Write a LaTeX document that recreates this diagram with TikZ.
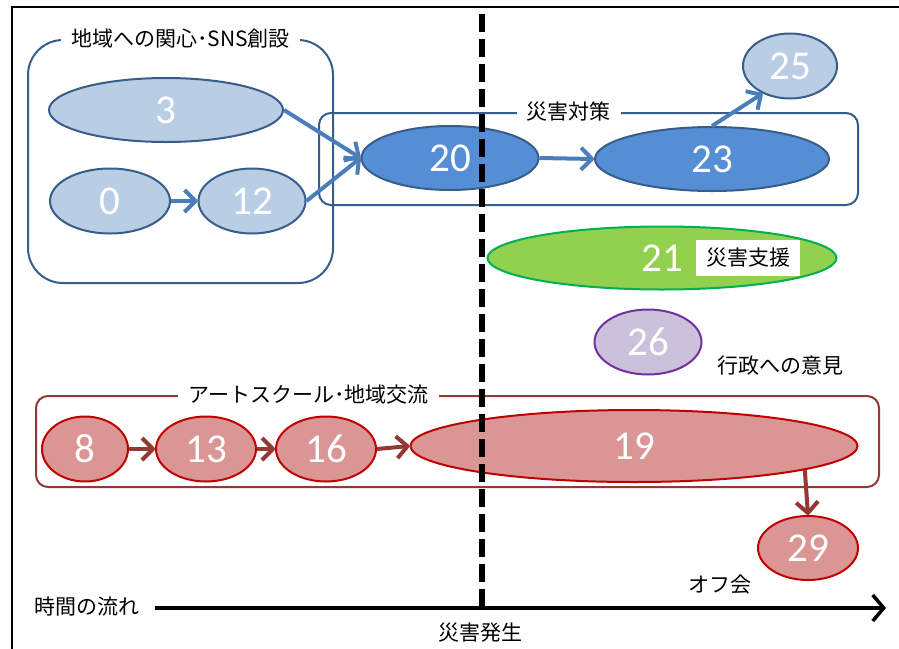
\documentclass[tikz,border=0pt]{standalone}
\usepackage{fontspec}
\setmainfont{Carlito}
\newfontfamily\jp{Noto Sans CJK JP}
\usetikzlibrary{shapes.geometric,arrows.meta}
\definecolor{bfill}{HTML}{B9CDE5}
\definecolor{bline}{HTML}{385D8A}
\definecolor{dbfill}{HTML}{558ED5}
\definecolor{barrow}{HTML}{4A7EBB}
\definecolor{rfill}{HTML}{D99694}
\definecolor{rline}{HTML}{C00000}
\definecolor{rarrow}{HTML}{953735}
\definecolor{gfill}{HTML}{92D050}
\definecolor{gline}{HTML}{00B050}
\definecolor{pfill}{HTML}{CCC1DA}
\definecolor{pline}{HTML}{7030A0}
\tikzset{
  ell/.style={ellipse, inner sep=0pt, line width=2pt, text=white, font=\fontsize{41pt}{41pt}\selectfont},
  lblue/.style={ell, draw=bline, fill=bfill},
  dblue/.style={ell, draw=bline, fill=dbfill},
  red/.style={ell, draw=rline, fill=rfill},
  grp/.style={draw, line width=2pt, inner sep=0pt},
  gtitle/.style={fill=white, inner xsep=10pt, inner ysep=2pt, font=\jp\fontsize{21pt}{21pt}\selectfont},
  jlabel/.style={inner sep=0pt, font=\jp\fontsize{21pt}{21pt}\selectfont},
  barr/.style={draw=barrow, line width=4pt, line join=round, -{Straight Barb[length=11pt,width=22pt,line join=round]}},
  rarr/.style={draw=rarrow, line width=4pt, line join=round, -{Straight Barb[length=11pt,width=22pt,line join=round]}},
}
\begin{document}
\begin{tikzpicture}[x=1pt, y=-1pt]
\useasboundingbox (0,0) rectangle (899,648);
% frame
\coordinate (fbl) at (12,650);
\coordinate (ftl) at (12,7);
\coordinate (ftr) at (901,7);
\draw[line width=2.5pt] (fbl) -- (ftl) -- (ftr);

% groups
\node[grp, draw=bline, rounded corners=35pt, minimum width=305pt, minimum height=243pt] (g1) at (180.5,161.5) {};
\node[grp, draw=bline, rounded corners=12pt, minimum width=539pt, minimum height=92pt] (g2) at (588.5,159) {};
\node[grp, draw=rarrow, rounded corners=12pt, minimum width=843pt, minimum height=91pt] (g3) at (457.5,441.5) {};
\node[gtitle] (t1) at (g1.north) {地域への関心･SNS創設};
\node[gtitle] (t2) at ([xshift=-20pt]g2.north) {災害対策};
\node[gtitle] (t3) at ([xshift=-149pt]g3.north) {アートスクール･地域交流};

% blue nodes
\node[lblue, minimum width=234pt, minimum height=64pt] (n3) at (166,110) {3};
\node[lblue, minimum width=120pt, minimum height=65pt] (n0) at (110,201) {0};
\node[lblue, minimum width=107pt, minimum height=65pt] (n12) at (252,201) {12};
\node[dblue, minimum width=177pt, minimum height=64pt] (n20) at (450,158) {20};
\node[dblue, minimum width=234pt, minimum height=64pt] (n23) at (712,159) {23};
\node[lblue, minimum width=94pt, minimum height=65pt] (n25) at (790,66) {25};

% green, purple
\node[ell, draw=gline, fill=gfill, minimum width=349pt, minimum height=63pt] (n21) at (662,258) {21};
\node[fill=white, inner xsep=10pt, minimum height=36pt, font=\jp\fontsize{21pt}{21pt}\selectfont] (l21) at (748,258) {災害支援};
\node[ell, draw=pline, fill=pfill, minimum width=107pt, minimum height=65pt] (n26) at (648,342) {26};
\node[jlabel] (l26) at (780,366) {行政への意見};

% red nodes
\node[red, minimum width=86pt, minimum height=65pt] (n8) at (85,449) {8};
\node[red, minimum width=100pt, minimum height=65pt] (n13) at (206,449) {13};
\node[red, minimum width=100pt, minimum height=65pt] (n16) at (326,449) {16};
\node[red, minimum width=447pt, minimum height=72pt] (n19) at (634,446) {19};
\node[red, minimum width=100pt, minimum height=64pt] (n29) at (808,548) {29};
\node[jlabel] (l29) at (720,585) {オフ会};

% arrows
\draw[barr] (n0.east) -- (n12.west);
\draw[barr] (n3.east) -- (n20.west);
\draw[barr] (n12.east) -- (n20.west);
\draw[barr] (n20.east) -- (n23.west);
\draw[barr] (n23.north) -- (n25.-135);
\draw[rarr] (n8.east) -- (n13.west);
\draw[rarr] (n13.east) -- (n16.west);
\draw[rarr] (n16.east) -- (n19.west);
\draw[rarr] (n19.-8.5) -- (n29.north);

% time axis and disaster line
\coordinate (dtop) at (482,14);
\coordinate (dbot) at (482,608);
\coordinate (tstart) at (155,608);
\coordinate (tend) at (886,608);
\draw[line width=5.5pt, dash pattern=on 18pt off 7pt] (dtop) -- (dbot);
\draw[line width=3.5pt, -{Straight Barb[length=11pt,width=26pt]}] (tstart) -- (tend);
\node[jlabel] (lt) at (87,607) {時間の流れ};
\node[jlabel] (ld) at (480,633) {災害発生};
\end{tikzpicture}
\end{document}
